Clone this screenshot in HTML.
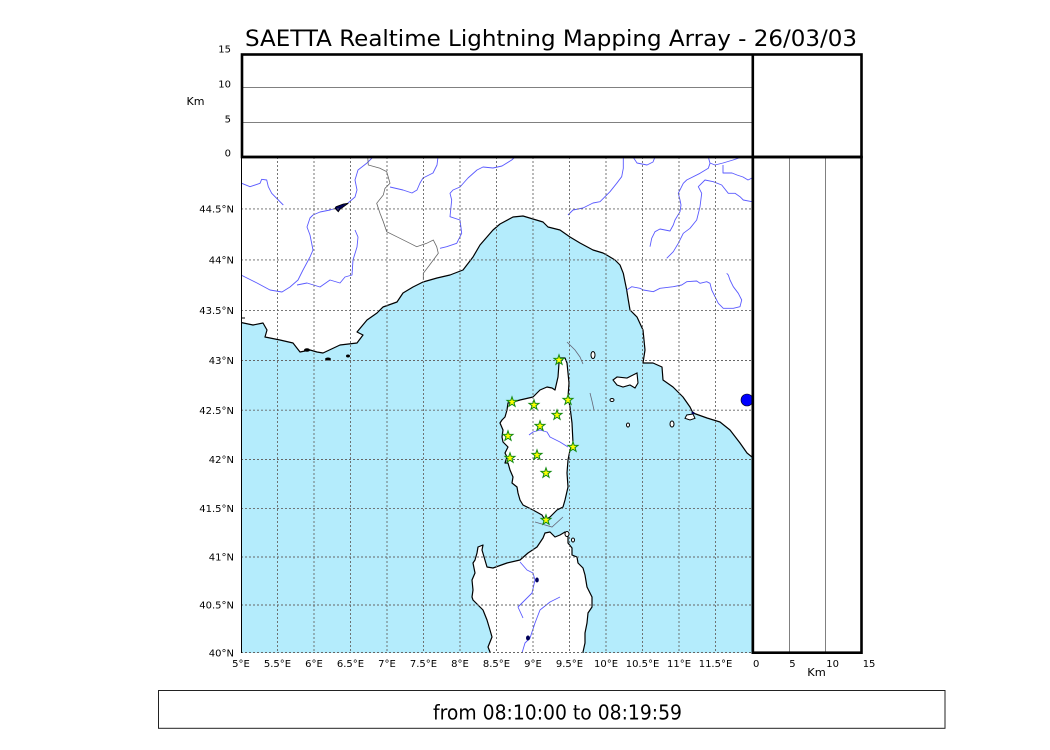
<!DOCTYPE html>
<html><head><meta charset="utf-8"><style>
html,body{margin:0;padding:0;background:#fff;}
svg{display:block;font-family:"DejaVu Sans","Liberation Sans",sans-serif;}
</style></head><body>
<svg width="1050" height="750" viewBox="0 0 1050 750" xmlns="http://www.w3.org/2000/svg">
<defs><clipPath id="mc"><rect x="241" y="157" width="511" height="496"/></clipPath></defs>
<rect width="1050" height="750" fill="#fff"/>
<text x="551" y="46" font-size="22" text-anchor="middle" textLength="612" lengthAdjust="spacingAndGlyphs">SAETTA Realtime Lightning Mapping Array - 26/03/03</text>
<g clip-path="url(#mc)">
<polygon fill="#b4ecfc" stroke="#000" stroke-width="1.2" stroke-linejoin="round" points="241,322.5 253,325 263,323 267,330 265,337 280,340 293,343 300,352 310,350 317,352 323,353 340,345 357,343 363,335 357,332 367,320 377,313 383,307 397,302 403,293 413,287 423,282 437,278 450,275 463,270 473,257 480,245 493,230 500,224 513,217 523,216 533,219 543,222 548,227 560,230 570,237 580,243 593,250 603,253 606.7,255 615,260 620,265 623.3,273.3 625,281.7 626.7,290 628.3,300 630,310 637,317 643,330 645,350 643,363 653,363 662,367 663,380 673,387 683,397 690,407 693,413 707,418 720,422 730,430 740,443 747,453 752,457 755,457 755,656 238,656 238,322.5"/>
<polygon fill="#fff" stroke="#000" stroke-width="1.2" stroke-linejoin="round" points="558,358 565,358 567,363 568,373 569,383 568,397 570,407 572,423 573,443 570,450 568,460 567,473 568,487 565,500 563,507 557,510 550,517 545,520 542,515 533,510 523,505 520,500 518,493 517,487 512,483 513,477 510,470 508,463 505,463 507,457 505,453 508,447 503,442 502,437 503,430 500,423 502,420 505,417 507,410 508,403 513,402 520,400 533,397 540,390 547,387 552,388 555,390 558,377 559,363"/>
<polygon fill="#fff" stroke="#000" stroke-width="1.2" stroke-linejoin="round" points="545,533 550,532 555,537 560,535 565,532 568,537 568,543 572,548 572,555 577,557 578,563 583,568 585,575 587,587 592,597 592,607 588,613 587,623 585,633 585,643 583,652 583,656 490,656 490,652 488,647 492,637 490,630 487,620 483,610 473,600 472,597 473,590 472,580 475,573 473,563 475,560 477,553 478,547 483,545 482,550 487,567 493,568 507,563 520,560 528,553 537,547 543,538"/>
<polygon fill="#fff" stroke="#000" stroke-width="1.1" points="613,380 617,377 627,378 633,375 637,373 638,383 635,388 630,385 623,387 617,385"/>
<ellipse cx="593" cy="355" rx="2" ry="3.5" fill="#fff" stroke="#000" stroke-width="1"/>
<ellipse cx="612" cy="400" rx="2" ry="1.5" fill="#fff" stroke="#000" stroke-width="1"/>
<ellipse cx="628" cy="425" rx="1.5" ry="2" fill="#fff" stroke="#000" stroke-width="1"/>
<ellipse cx="672" cy="424" rx="2" ry="3" fill="#fff" stroke="#000" stroke-width="1"/>
<polygon fill="#fff" stroke="#000" stroke-width="1" points="686.7,415 685,418.3 690,420 695,418.3 693,414"/>
<ellipse cx="567" cy="534" rx="2" ry="2.5" fill="#fff" stroke="#000" stroke-width="1"/>
<ellipse cx="573" cy="540" rx="1.5" ry="2" fill="#fff" stroke="#000" stroke-width="1"/>
<ellipse cx="307" cy="350" rx="3" ry="1.8" fill="#000"/>
<ellipse cx="328" cy="359" rx="3" ry="1.5" fill="#000"/>
<ellipse cx="348" cy="356" rx="2" ry="1.5" fill="#000"/>
<g fill="none" stroke="#5a5aff" stroke-width="0.9" stroke-linejoin="round">
<polyline points="241.7,183.3 250,186.7 260,183.3 261.7,179.3 266.7,180 268.3,186.7 271.7,193.3 283.3,205"/>
<polyline points="373,157 367,163 358,170 355,180 357,190 355,197 348,203 340,207 330,210 320,212 313,215 310,218 307,227 310,235 313,250 310,257 303,270 298,280 290,287 282,292 270,290 257,283 247,278 241,275"/>
<polyline points="297,285 307,283 320,287 330,280 340,283 345,277 352,275 353,260 357,247 358,237 355,230"/>
<polyline points="390,187 403,190 412,193 417,190 420,183 423,178 433,173 437,165 438,157"/>
<polyline points="440,248.3 446.7,246.7 456.7,243.3 461.7,233.3 460,220 450,216.7 451.7,200 450,193.3 453,190 460,187 468,178 477,170 483,167 493,168 502,166 511.7,160 515,157"/>
<polyline points="568,215 573,210 583,208 593,203 600,201.7 610,191.7 616.7,183.3 621.7,176.7 623.3,168.3 623.3,157"/>
<polyline points="633,157 637,163 647,165 653,162 655,157"/>
<polyline points="650,246.7 651.7,238.3 655,231.7 660,229 665,230 670,231 673.3,225 675,220 680,211.7 681,205 680,200 678.3,193.3 683.3,183.3 686.7,180 700,173.3 708.3,168.3 710,163.3 708.3,157"/>
<polyline points="710,163 715,165 723,163 733,160 742,157"/>
<polyline points="723,165 723,173 732,173 737,175 743,177 748,180 752,178"/>
<polyline points="666.7,258.3 673.3,251.7 678.3,243.3 683.3,233.3 690,228.3 696.7,220 700,206.7 701.7,193.3 698.3,186.7 705,180 713.3,181.7 721.7,185 728.3,193.3 735,193.3 740,196.7 743.3,200 752,201.7"/>
<polyline points="626.7,290 631.7,286.7 640,288.3 643.3,290 653.3,291.7 660,288.3 673.3,286.7 681.7,285 686.7,281.7 696.7,281 700,283.3 706.7,281.7 710,283.3 711.7,290 715,296.7 718.3,303.3 723.3,308.3 733.3,308.3 740,306.7 741.7,300 738.3,293.3 733.3,286.7 730,280 728.3,275 726.7,273.3"/>
<polyline points="529,435 533,432 540,430 547,432 550,437 560,442 568,447"/>
<polyline points="520,562 527,570 533,573 535,580 532,593 518,607 523,618"/>
<polyline points="560,597 550,602 540,610 535,623 530,638 525,643 522,653"/>
</g>
<polyline fill="none" stroke="#666" stroke-width="0.8" points="367.7,157 368.3,165 380,168.3 386.7,171.7 390,183.3 385,188.3 383.3,195 376.7,203.3 380,213.3 383.3,221.7 386.7,231.7 396.7,236.7 410,243.3 416.7,246.7 426.7,243.3 433.3,240 436.7,246.7 438.3,253.3 433.3,260 428.3,266.7 423.3,273.3 423.3,280"/>
<g fill="none" stroke="#667" stroke-width="0.8">
<polyline points="567,342 575,350 580,357 583,364"/>
<polyline points="590,393 592,401 594,410"/>
<polyline points="535,522 552,527 563,517"/>
</g>
<polygon fill="#00005a" stroke="#000" stroke-width="0.8" points="335,208.3 338.3,211.7 340,209.3 348.3,203.3 343.3,204 336,206.7"/>
<ellipse cx="537" cy="580" rx="1.8" ry="2.5" fill="#00005a"/>
<ellipse cx="528" cy="638" rx="2" ry="2.5" fill="#00005a"/>
<ellipse cx="693" cy="413" rx="1.5" ry="1.2" fill="#00005a"/>
<circle cx="747" cy="400" r="6" fill="#0000ff" stroke="#000" stroke-width="0.6"/>
<line x1="241" y1="318" x2="245" y2="318" stroke="#000" stroke-width="1"/>
<g stroke="#666" stroke-width="0.9" stroke-dasharray="2 2" fill="none">
<line x1="277.5" y1="157" x2="277.5" y2="653"/>
<line x1="314" y1="157" x2="314" y2="653"/>
<line x1="350.5" y1="157" x2="350.5" y2="653"/>
<line x1="387" y1="157" x2="387" y2="653"/>
<line x1="423.5" y1="157" x2="423.5" y2="653"/>
<line x1="460" y1="157" x2="460" y2="653"/>
<line x1="496.5" y1="157" x2="496.5" y2="653"/>
<line x1="533" y1="157" x2="533" y2="653"/>
<line x1="569.5" y1="157" x2="569.5" y2="653"/>
<line x1="606" y1="157" x2="606" y2="653"/>
<line x1="642.5" y1="157" x2="642.5" y2="653"/>
<line x1="679" y1="157" x2="679" y2="653"/>
<line x1="715.5" y1="157" x2="715.5" y2="653"/>
<line x1="241" y1="652.5" x2="752" y2="652.5"/>
<line x1="241" y1="605" x2="752" y2="605"/>
<line x1="241" y1="557" x2="752" y2="557"/>
<line x1="241" y1="508.4" x2="752" y2="508.4"/>
<line x1="241" y1="459.5" x2="752" y2="459.5"/>
<line x1="241" y1="410.2" x2="752" y2="410.2"/>
<line x1="241" y1="360.5" x2="752" y2="360.5"/>
<line x1="241" y1="310.4" x2="752" y2="310.4"/>
<line x1="241" y1="259.9" x2="752" y2="259.9"/>
<line x1="241" y1="208.9" x2="752" y2="208.9"/>
</g>
<g fill="#ffff00" stroke="#138a13" stroke-width="1" stroke-linejoin="miter">
<path d="M0,-5.2 L1.2,-1.7 L5,-1.6 L2,0.7 L3.1,4.3 L0,2.2 L-3.1,4.3 L-2,0.7 L-5,-1.6 L-1.2,-1.7 Z" transform="translate(559,360)"/>
<path d="M0,-5.2 L1.2,-1.7 L5,-1.6 L2,0.7 L3.1,4.3 L0,2.2 L-3.1,4.3 L-2,0.7 L-5,-1.6 L-1.2,-1.7 Z" transform="translate(512,402)"/>
<path d="M0,-5.2 L1.2,-1.7 L5,-1.6 L2,0.7 L3.1,4.3 L0,2.2 L-3.1,4.3 L-2,0.7 L-5,-1.6 L-1.2,-1.7 Z" transform="translate(534,405)"/>
<path d="M0,-5.2 L1.2,-1.7 L5,-1.6 L2,0.7 L3.1,4.3 L0,2.2 L-3.1,4.3 L-2,0.7 L-5,-1.6 L-1.2,-1.7 Z" transform="translate(568,400)"/>
<path d="M0,-5.2 L1.2,-1.7 L5,-1.6 L2,0.7 L3.1,4.3 L0,2.2 L-3.1,4.3 L-2,0.7 L-5,-1.6 L-1.2,-1.7 Z" transform="translate(557,415)"/>
<path d="M0,-5.2 L1.2,-1.7 L5,-1.6 L2,0.7 L3.1,4.3 L0,2.2 L-3.1,4.3 L-2,0.7 L-5,-1.6 L-1.2,-1.7 Z" transform="translate(540,426)"/>
<path d="M0,-5.2 L1.2,-1.7 L5,-1.6 L2,0.7 L3.1,4.3 L0,2.2 L-3.1,4.3 L-2,0.7 L-5,-1.6 L-1.2,-1.7 Z" transform="translate(508,436)"/>
<path d="M0,-5.2 L1.2,-1.7 L5,-1.6 L2,0.7 L3.1,4.3 L0,2.2 L-3.1,4.3 L-2,0.7 L-5,-1.6 L-1.2,-1.7 Z" transform="translate(573,447)"/>
<path d="M0,-5.2 L1.2,-1.7 L5,-1.6 L2,0.7 L3.1,4.3 L0,2.2 L-3.1,4.3 L-2,0.7 L-5,-1.6 L-1.2,-1.7 Z" transform="translate(510,458)"/>
<path d="M0,-5.2 L1.2,-1.7 L5,-1.6 L2,0.7 L3.1,4.3 L0,2.2 L-3.1,4.3 L-2,0.7 L-5,-1.6 L-1.2,-1.7 Z" transform="translate(537,455)"/>
<path d="M0,-5.2 L1.2,-1.7 L5,-1.6 L2,0.7 L3.1,4.3 L0,2.2 L-3.1,4.3 L-2,0.7 L-5,-1.6 L-1.2,-1.7 Z" transform="translate(546,473)"/>
<path d="M0,-5.2 L1.2,-1.7 L5,-1.6 L2,0.7 L3.1,4.3 L0,2.2 L-3.1,4.3 L-2,0.7 L-5,-1.6 L-1.2,-1.7 Z" transform="translate(546,520)"/>
</g>
</g>
<line x1="241.5" y1="157" x2="241.5" y2="653" stroke="#000" stroke-width="1"/>
<g stroke="#808080" stroke-width="1">
<line x1="241" y1="87.5" x2="752" y2="87.5"/>
<line x1="241" y1="122.5" x2="752" y2="122.5"/>
<line x1="789.5" y1="157" x2="789.5" y2="653"/>
<line x1="825.5" y1="157" x2="825.5" y2="653"/>
</g>
<g fill="none" stroke="#000" stroke-width="2.6">
<rect x="242" y="54.5" width="619.5" height="102.5"/>
<line x1="241" y1="157" x2="862" y2="157"/>
<line x1="752.8" y1="54" x2="752.8" y2="654"/>
<rect x="752.8" y="157" width="108.7" height="495.7"/>
</g>
<g font-size="10" fill="#000">
<g text-anchor="end">
<text x="231" y="52.7">15</text>
<text x="231" y="87.3">10</text>
<text x="231" y="122.3">5</text>
<text x="231" y="156.7">0</text>
<text x="234" y="656.6">40°N</text>
<text x="234" y="608.7">40.5°N</text>
<text x="234" y="560.6">41°N</text>
<text x="234" y="512">41.5°N</text>
<text x="234" y="463.1">42°N</text>
<text x="234" y="413.8">42.5°N</text>
<text x="234" y="364.1">43°N</text>
<text x="234" y="314">43.5°N</text>
<text x="234" y="263.5">44°N</text>
<text x="234" y="212.5">44.5°N</text>
</g>
<g text-anchor="middle">
<text x="241" y="667">5°E</text>
<text x="277.5" y="667">5.5°E</text>
<text x="314" y="667">6°E</text>
<text x="350.5" y="667">6.5°E</text>
<text x="387" y="667">7°E</text>
<text x="423.5" y="667">7.5°E</text>
<text x="460" y="667">8°E</text>
<text x="496.5" y="667">8.5°E</text>
<text x="533" y="667">9°E</text>
<text x="569.5" y="667">9.5°E</text>
<text x="606" y="667">10°E</text>
<text x="642.5" y="667">10.5°E</text>
<text x="679" y="667">11°E</text>
<text x="715.5" y="667">11.5°E</text>
</g>
<text x="753" y="667">0</text>
<text x="789.3" y="667">5</text>
<text x="826.3" y="667">10</text>
<text x="862.7" y="667">15</text>
<text x="186.5" y="105" font-size="11" textLength="18" lengthAdjust="spacingAndGlyphs">Km</text>
<text x="807.3" y="676" font-size="11" textLength="18.5" lengthAdjust="spacingAndGlyphs">Km</text>
</g>
<rect x="158.5" y="690.5" width="786.5" height="37.8" fill="none" stroke="#222" stroke-width="1"/>
<text x="557.5" y="719.5" font-size="20" text-anchor="middle" textLength="249" lengthAdjust="spacingAndGlyphs">from 08:10:00 to 08:19:59</text>
</svg>
</body></html>
